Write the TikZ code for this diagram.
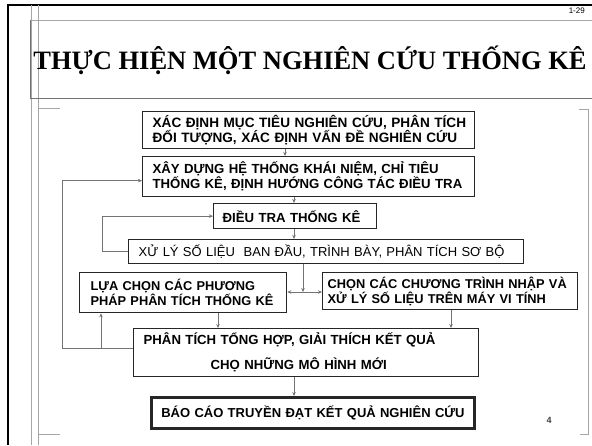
\documentclass[tikz,border=0pt]{standalone}
\usepackage{fontspec}
\setmainfont{Liberation Serif}
\setsansfont{Liberation Sans}
\usetikzlibrary{arrows.meta}
\newcommand\oneline[1]{\mbox{#1}}
\begin{document}
\begin{tikzpicture}[x=1pt,y=-1pt,
  box/.style={draw=black!85, line width=1.3pt, anchor=north west, inner ysep=0pt, align=left,
    font=\sffamily\bfseries\fontsize{13.2}{12.5}\selectfont},
  conn/.style={draw=black!55, line width=0.7pt},
  arr/.style={conn, -{Stealth[length=4pt,width=3.5pt]}},
  frameline/.style={draw=black!35, line width=0.6pt}]
\useasboundingbox[fill=white] (0,0) rectangle (592,445);

% page frame
\draw[line width=2.5pt, black] (8,445) -- (8,5) -- (592,5);
\draw[frameline] (31,5) -- (31,445);
\draw[frameline] (38,5) -- (38,445);
\draw[frameline] (30,20) -- (592,20);
\draw[draw=black!55, line width=0.7pt] (30,20) -- (30,98) -- (592,98);
\draw[frameline] (38,108) -- (60,108);
\draw[frameline] (38,434) -- (60,434);
\draw[frameline] (579,109) -- (588,109) -- (588,434) -- (580,434);

% title and page marks
\node[font=\bfseries\fontsize{26.5}{30}\selectfont, anchor=base, inner sep=0pt] (title) at (310,69) {THỰC HIỆN MỘT NGHIÊN CỨU THỐNG KÊ};
\node[font=\sffamily\fontsize{8}{9}\selectfont, anchor=base east, inner sep=0pt] (pg) at (585,13) {1-29};
\node[font=\sffamily\bfseries\fontsize{9}{10}\selectfont, text=black!75, inner sep=0pt] (num) at (549,420) {4};

% boxes
\node[box, font=\sffamily\bfseries\fontsize{13.6}{12.5}\selectfont,
  minimum width=332pt, minimum height=37pt, inner xsep=10pt, text width=312pt] (b1) at (142,111)
  {\oneline{XÁC ĐỊNH MỤC TIÊU NGHIÊN CỨU, PHÂN TÍCH}\\\oneline{ĐỐI TƯỢNG, XÁC ĐỊNH VẤN ĐỀ NGHIÊN CỨU}};
\node[box, minimum width=332pt, minimum height=40pt, inner xsep=10pt, text width=312pt] (b2) at (142,156)
  {\oneline{XÂY DỰNG HỆ THỐNG KHÁI NIỆM, CHỈ TIÊU}\\\oneline{THỐNG KÊ, ĐỊNH HƯỚNG CÔNG TÁC ĐIỀU TRA}};
\node[box, minimum width=163pt, minimum height=25pt, inner xsep=9pt, text width=145pt] (b3) at (213,203)
  {\oneline{ĐIỀU TRA THỐNG KÊ}};
\node[box, minimum width=395pt, minimum height=24pt, inner xsep=10pt, text width=375pt,
  font=\sffamily\fontsize{13}{12.5}\selectfont] (b4) at (128,239)
  {\oneline{XỬ LÝ SỐ LIỆU\ \ BAN ĐẦU, TRÌNH BÀY, PHÂN TÍCH SƠ BỘ}};
\node[box, font=\sffamily\bfseries\fontsize{12.8}{13}\selectfont,
  minimum width=207pt, minimum height=40pt, inner xsep=11pt, text width=185pt] (b5a) at (79,272)
  {\oneline{LỰA CHỌN CÁC PHƯƠNG}\\\oneline{PHÁP PHÂN TÍCH THỐNG KÊ}};
\node[box, font=\sffamily\bfseries\fontsize{12.8}{12.5}\selectfont,
  minimum width=255pt, minimum height=37pt, inner xsep=5pt, text width=245pt] (b5b) at (322,272)
  {\oneline{CHỌN CÁC CHƯƠNG TRÌNH NHẬP VÀ}\\\oneline{XỬ LÝ SỐ LIỆU TRÊN MÁY VI TÍNH}};
\node[box, minimum width=345pt, minimum height=48pt, inner xsep=10pt, text width=325pt] (b6) at (133,328)
  {\oneline{PHÂN TÍCH TỔNG HỢP, GIẢI THÍCH KẾT QUẢ}\\[9.5pt]\hspace*{67pt}\oneline{CHỌ NHỮNG MÔ HÌNH MỚI}};
\node[box, line width=2.6pt, font=\sffamily\bfseries\fontsize{13}{12.5}\selectfont,
  minimum width=323pt, minimum height=31pt, inner xsep=10pt, text width=303pt] (b7) at (150,396)
  {\oneline{BÁO CÁO TRUYỀN ĐẠT KẾT QUẢ NGHIÊN CỨU}};

% helper coordinates
\coordinate (c285) at (285,0);
\coordinate (c294) at (294,0);
\coordinate (c218) at (218,0);
\coordinate (c451) at (451,0);
\coordinate (c102) at (102,0);
\coordinate (c101) at (101,0);
\coordinate (j) at (303,292);

% connectors
\draw[arr] (b1.south -| c285) -- (b2.north -| c285);
\draw[arr] (b2.south -| c294) -- (b3.north -| c294);
\draw[arr] (b3.south -| c294) -- (b4.north -| c294);
\draw[arr] (b4.west) -- (b4.west -| c102) |- (b3.west);
\draw[arr] (b4.south -| j) -- (j);
\draw[arr] (j) -- (j -| b5a.east);
\draw[arr] (j) -- (j -| b5b.west);
\draw[arr] (b5a.south -| c218) -- (b6.north -| c218);
\draw[arr] (b5b.south -| c451) -- (b6.north -| c451);
\draw[arr] ([yshift=4pt]b6.west) -- ++(-71,0) |- ([yshift=-4pt]b2.west);
\draw[arr] ([yshift=4pt]b6.west -| c101) -- (b5a.south -| c101);
\draw[arr] (b6.south -| c294) -- (b7.north -| c294);
\end{tikzpicture}
\end{document}
